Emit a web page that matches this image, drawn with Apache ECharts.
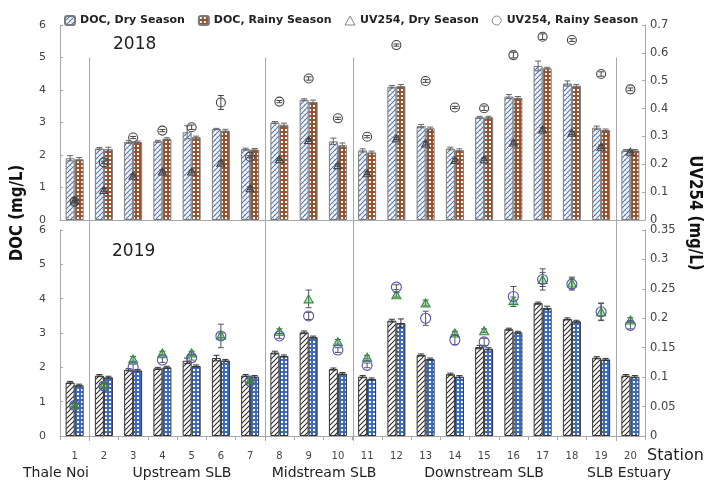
<!DOCTYPE html>
<html>
<head>
<meta charset="utf-8">
<script src="https://cdn.jsdelivr.net/npm/echarts@6/dist/echarts.min.js"></script>
<style>
  html, body { margin: 0; padding: 0; background: #fff; }
  #main { width: 711px; height: 481px; }
</style>
</head>
<body>
<div id="main"></div>
<script>
// Stations along the lake system
const stations = ['1','2','3','4','5','6','7','8','9','10','11','12','13','14','15','16','17','18','19','20'];

// 2018 DOC (mg/L)
const doc2018Dry   = [1.90,2.20,2.40,2.42,2.70,2.80,2.18,3.00,3.70,2.42,2.14,4.10,2.89,2.20,3.16,3.80,4.74,4.20,2.84,2.14];
const doc2018Rainy = [1.87,2.18,2.40,2.50,2.55,2.75,2.17,2.93,3.63,2.30,2.08,4.12,2.82,2.15,3.16,3.76,4.67,4.13,2.77,2.14];
const doc2018DryErr   = [0.08,0.03,0.04,0.03,0.20,0.02,0.03,0.03,0.03,0.10,0.05,0.04,0.05,0.04,0.03,0.06,0.15,0.08,0.05,0.03];
const doc2018RainyErr = [0.05,0.06,0.03,0.03,0.03,0.04,0.03,0.05,0.06,0.07,0.04,0.05,0.04,0.04,0.03,0.04,0.03,0.04,0.03,0.03];

// 2018 UV254 (mg/L)
const uv2018Dry   = [0.070,0.108,0.159,0.174,0.174,0.206,0.114,0.218,0.287,0.197,0.168,0.293,0.275,0.215,0.218,0.278,0.325,0.313,0.263,0.245];
const uv2018Rainy = [0.066,0.207,0.296,0.321,0.333,0.422,0.227,0.425,0.508,0.365,0.299,0.628,0.499,0.404,0.401,0.592,0.658,0.646,0.524,0.469];
const uv2018DryErr   = [0.006,0.005,0.005,0.005,0.005,0.005,0.005,0.004,0.005,0.004,0.005,0.004,0.006,0.005,0.005,0.006,0.006,0.006,0.006,0.004];
const uv2018RainyErr = [0.004,0.004,0.004,0.004,0.008,0.025,0.004,0.004,0.006,0.004,0.004,0.004,0.005,0.004,0.008,0.010,0.010,0.005,0.008,0.005];

// 2019 DOC (mg/L)
const doc2019Dry   = [1.56,1.76,1.93,1.97,2.19,2.27,1.76,2.43,3.02,1.95,1.73,3.36,2.36,1.80,2.59,3.11,3.87,3.41,2.28,1.76];
const doc2019Rainy = [1.48,1.71,1.91,2.00,2.04,2.20,1.73,2.33,2.88,1.82,1.66,3.29,2.24,1.73,2.54,3.02,3.73,3.34,2.23,1.73];
const doc2019DryErr   = [0.03,0.03,0.03,0.03,0.08,0.08,0.03,0.04,0.04,0.03,0.03,0.04,0.03,0.03,0.05,0.03,0.03,0.03,0.03,0.03];
const doc2019RainyErr = [0.03,0.03,0.03,0.03,0.03,0.03,0.03,0.03,0.03,0.03,0.03,0.12,0.03,0.03,0.03,0.03,0.05,0.03,0.03,0.03];

// 2019 UV254 (mg/L)
const uv2019Dry   = [0.053,0.087,0.131,0.141,0.141,0.171,0.095,0.178,0.233,0.160,0.134,0.240,0.226,0.175,0.179,0.230,0.266,0.260,0.211,0.197];
const uv2019Rainy = [0.052,0.085,0.117,0.129,0.133,0.170,0.093,0.170,0.204,0.146,0.120,0.253,0.200,0.163,0.160,0.237,0.266,0.258,0.211,0.188];
const uv2019DryErr   = [0.003,0.004,0.004,0.003,0.003,0.004,0.003,0.004,0.015,0.004,0.003,0.004,0.005,0.003,0.003,0.006,0.012,0.010,0.015,0.004];
const uv2019RainyErr = [0.004,0.005,0.005,0.004,0.004,0.020,0.004,0.004,0.006,0.004,0.004,0.004,0.012,0.008,0.006,0.017,0.018,0.010,0.014,0.006];

// Axis tick values
const docTicks = [0,1,2,3,4,5,6];
const uvTicks2018 = [0,0.1,0.2,0.3,0.4,0.5,0.6,0.7];
const uvTicks2019 = [0,0.05,0.1,0.15,0.2,0.25,0.3,0.35];

// Station groups and the stations after which a divider is drawn
const groupNames = ['Thale Noi','Upstream SLB','Midstream SLB','Downstream SLB','SLB Estuary'];
const dividerAfter = [1,7,10,19];

// ---- fill patterns ----
function tile(size, bg, draw) {
  const c = document.createElement('canvas');
  c.width = size; c.height = size;
  const ctx = c.getContext('2d');
  ctx.fillStyle = bg;
  ctx.fillRect(0, 0, size, size);
  draw(ctx, size);
  return { image: c, repeat: 'repeat' };
}
function diag(ctx, s, color, width, back) {
  ctx.strokeStyle = color; ctx.lineWidth = width;
  ctx.beginPath();
  if (back) {
    ctx.moveTo(0, 0); ctx.lineTo(s, s);
    ctx.moveTo(-1, s - 1); ctx.lineTo(1, s + 1);
    ctx.moveTo(s - 1, -1); ctx.lineTo(s + 1, 1);
  } else {
    ctx.moveTo(0, s); ctx.lineTo(s, 0);
    ctx.moveTo(-1, 1); ctx.lineTo(1, -1);
    ctx.moveTo(s - 1, s + 1); ctx.lineTo(s + 1, s - 1);
  }
  ctx.stroke();
}
const fillDry2018 = tile(5, '#ffffff', (ctx, s) => { diag(ctx, s, '#c9cfdc', 0.8, true); diag(ctx, s, '#4f74b8', 1.1, false); });
const fillRainy2018 = tile(4, '#99522e', (ctx) => { ctx.fillStyle = '#ffffff'; ctx.fillRect(1, 1, 2, 2); });
const fillDry2019 = tile(5, '#ffffff', (ctx, s) => { diag(ctx, s, '#2b2b2b', 1.1, false); });
const fillRainy2019 = tile(4, '#3b6cc2', (ctx) => { ctx.fillStyle = '#ffffff'; ctx.fillRect(1, 1, 2, 2); });

// ---- error bars ----
function errorBars(name, values, errs, gridIdx, yIdx, offset, color, capW) {
  return {
    type: 'custom', name: name, xAxisIndex: gridIdx, yAxisIndex: yIdx, z: 5, silent: true,
    data: values.map((v, i) => [i, v - errs[i], v + errs[i]]),
    encode: { x: 0, y: [1, 2] },
    renderItem(params, api) {
      const lo = api.coord([api.value(0), api.value(1)]);
      const hi = api.coord([api.value(0), api.value(2)]);
      const x = lo[0] + offset, h = capW / 2;
      const st = { stroke: color, lineWidth: 1 };
      return { type: 'group', children: [
        { type: 'line', shape: { x1: x, y1: lo[1], x2: x, y2: hi[1] }, style: st },
        { type: 'line', shape: { x1: x - h, y1: lo[1], x2: x + h, y2: lo[1] }, style: st },
        { type: 'line', shape: { x1: x - h, y1: hi[1], x2: x + h, y2: hi[1] }, style: st }
      ]};
    }
  };
}

const BAR_W = 9;
const tickFont = 'DejaVu Sans';

function barSeries(name, data, gridIdx, yIdx, fill, border) {
  return {
    type: 'bar', name: name, xAxisIndex: gridIdx, yAxisIndex: yIdx, data: data,
    barWidth: BAR_W, barGap: '0%', z: 2,
    itemStyle: { color: fill, borderColor: border, borderWidth: 1 },
    emphasis: { disabled: true }
  };
}
function markSeries(name, data, gridIdx, yIdx, symbol, size, stroke, fill) {
  return {
    type: 'scatter', name: name, xAxisIndex: gridIdx, yAxisIndex: yIdx, data: data,
    symbol: symbol, symbolSize: size, z: 6,
    itemStyle: { color: fill, borderColor: stroke, borderWidth: 1.1, opacity: 1 },
    emphasis: { disabled: true }
  };
}

function valueAxis(gridIdx, ticks, pos) {
  return {
    type: 'value', gridIndex: gridIdx, position: pos,
    min: ticks[0], max: ticks[ticks.length - 1], interval: ticks[1] - ticks[0],
    axisLine: { show: true, lineStyle: { color: '#a8a8a8' } },
    axisTick: { show: true, inside: true, length: 3, lineStyle: { color: '#a8a8a8' } },
    splitLine: { show: false },
    axisLabel: { fontFamily: tickFont, fontSize: pos === 'left' ? 11 : 11.5, color: '#444', margin: pos === 'left' ? 14 : 5 }
  };
}

const groupX = [56, 182, 324, 484, 629];

const option = {
  animation: false,
  backgroundColor: '#ffffff',
  legend: {
    data: [
      { name: 'DOC, Dry Season' },
      { name: 'DOC, Rainy Season' },
      { name: 'UV254, Dry Season', itemStyle: { borderWidth: 0.8, borderColor: '#666' } },
      { name: 'UV254, Rainy Season', itemStyle: { borderWidth: 0.8, borderColor: '#666' } }
    ],
    left: 59, top: 10, itemWidth: 10, itemHeight: 9, itemGap: 13,
    textStyle: { fontFamily: tickFont, fontWeight: 'bold', fontSize: 11, color: '#222' }
  },
  grid: [
    { left: 60, right: 66, top: 25, height: 195 },
    { left: 60, right: 66, top: 230, height: 206 }
  ],
  xAxis: [
    { type: 'category', gridIndex: 0, data: stations,
      axisLine: { lineStyle: { color: '#a8a8a8' } }, axisTick: { show: false }, axisLabel: { show: false } },
    { type: 'category', gridIndex: 1, data: stations,
      axisLine: { lineStyle: { color: '#a8a8a8' } },
      axisTick: { show: true, length: 4, lineStyle: { color: '#a8a8a8' } },
      axisLabel: { fontFamily: tickFont, fontSize: 10, color: '#444', margin: 15 } }
  ],
  yAxis: [
    valueAxis(0, docTicks, 'left'),
    valueAxis(0, uvTicks2018, 'right'),
    valueAxis(1, docTicks, 'left'),
    valueAxis(1, uvTicks2019, 'right')
  ],
  series: [
    barSeries('DOC, Dry Season', doc2018Dry, 0, 0, fillDry2018, '#7a7a7a'),
    barSeries('DOC, Rainy Season', doc2018Rainy, 0, 0, fillRainy2018, '#7a7a7a'),
    errorBars('DOC 2018 dry err', doc2018Dry, doc2018DryErr, 0, 0, -BAR_W / 2, '#666', 6),
    errorBars('DOC 2018 rainy err', doc2018Rainy, doc2018RainyErr, 0, 0, BAR_W / 2, '#666', 6),
    markSeries('UV254, Dry Season', uv2018Dry, 0, 1, 'triangle', [8, 7], '#444', 'rgba(255,255,255,0)'),
    markSeries('UV254, Rainy Season', uv2018Rainy, 0, 1, 'circle', 9, '#444', 'rgba(255,255,255,0)'),
    errorBars('UV 2018 dry err', uv2018Dry, uv2018DryErr, 0, 1, 0, '#444', 6),
    errorBars('UV 2018 rainy err', uv2018Rainy, uv2018RainyErr, 0, 1, 0, '#444', 6),

    barSeries('DOC 2019, Dry Season', doc2019Dry, 1, 2, fillDry2019, '#333'),
    barSeries('DOC 2019, Rainy Season', doc2019Rainy, 1, 2, fillRainy2019, '#333'),
    errorBars('DOC 2019 dry err', doc2019Dry, doc2019DryErr, 1, 2, -BAR_W / 2, '#333', 6),
    errorBars('DOC 2019 rainy err', doc2019Rainy, doc2019RainyErr, 1, 2, BAR_W / 2, '#333', 6),
    markSeries('UV254 2019, Dry Season', uv2019Dry, 1, 3, 'triangle', [9, 8], '#2f8f3c', 'rgba(70,160,80,0.35)'),
    markSeries('UV254 2019, Rainy Season', uv2019Rainy, 1, 3, 'circle', 10, '#5252b4', 'rgba(255,255,255,0)'),
    errorBars('UV 2019 dry err', uv2019Dry, uv2019DryErr, 1, 3, 0, '#555', 6),
    errorBars('UV 2019 rainy err', uv2019Rainy, uv2019RainyErr, 1, 3, 0, '#555', 6)
  ],
  graphic: { elements: [
    { type: 'text', id: 't2018', x: 113, y: 45, style: { text: '2018', font: '17px "DejaVu Sans"', fill: '#222', verticalAlign: 'middle' } },
    { type: 'text', id: 't2019', x: 112, y: 252, style: { text: '2019', font: '17px "DejaVu Sans"', fill: '#222', verticalAlign: 'middle' } },
    { type: 'text', id: 'docTitle', x: 17, y: 213, rotation: Math.PI / 2, scaleY: 1.2,
      style: { text: 'DOC (mg/L)', font: 'bold 15px "DejaVu Sans"', fill: '#111', align: 'center', verticalAlign: 'middle' } },
    { type: 'text', id: 'uvTitle', x: 695, y: 213, rotation: -Math.PI / 2, scaleY: 1.2,
      style: { text: 'UV254 (mg/L)', font: 'bold 15px "DejaVu Sans"', fill: '#111', align: 'center', verticalAlign: 'middle' } },
    { type: 'text', id: 'station', x: 647, y: 456, style: { text: 'Station', font: '16px "DejaVu Sans"', fill: '#222', verticalAlign: 'middle' } }
  ].concat(groupNames.map((g, i) => ({
    type: 'text', id: 'grp' + i, x: groupX[i], y: 473,
    style: { text: g, font: '14px "DejaVu Sans"', fill: '#222', align: 'center', verticalAlign: 'middle' }
  }))) }
};

const chart = echarts.init(document.getElementById('main'), null, { renderer: 'canvas' });
chart.setOption(option);

// Divider lines between station groups, placed on the category boundaries
const dividers = dividerAfter.map((k, j) => {
  const a = chart.convertToPixel({ xAxisIndex: 1 }, stations[k - 1]);
  const b = chart.convertToPixel({ xAxisIndex: 1 }, stations[k]);
  const x = Math.round((a + b) / 2) + 0.5;
  const yTop = chart.convertToPixel({ yAxisIndex: 0 }, 5.0);
  const yBot = chart.convertToPixel({ yAxisIndex: 2 }, 0) + 5;
  return { type: 'line', id: 'div' + j, z: 1, silent: true,
    shape: { x1: x, y1: yTop, x2: x, y2: yBot }, style: { stroke: '#a8a8a8', lineWidth: 1 } };
});
chart.setOption({ graphic: { elements: dividers } });
</script>
</body>
</html>
